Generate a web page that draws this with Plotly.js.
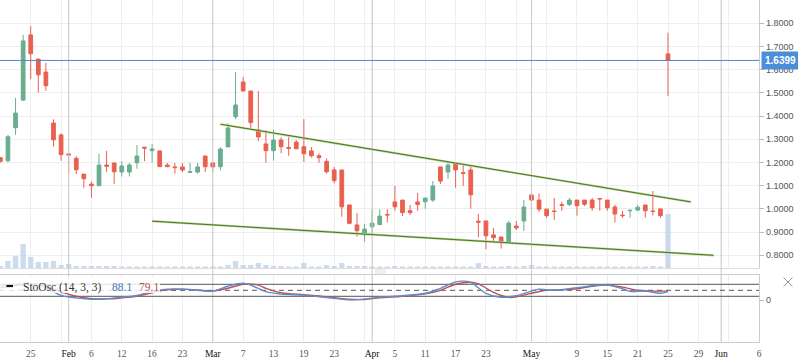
<!DOCTYPE html>
<html><head><meta charset="utf-8">
<script src="https://cdn.plot.ly/plotly-3.0.1.min.js"></script>
<style>html,body{margin:0;padding:0;background:#fff;overflow:hidden}#chart{width:798px;height:363px}</style>
</head><body><div id="chart"></div>
<script>
// ---------- data ----------
const dates = ['2018-01-19','2018-01-22','2018-01-23','2018-01-24','2018-01-25','2018-01-26','2018-01-29','2018-01-30','2018-01-31',
'2018-02-01','2018-02-02','2018-02-05','2018-02-06','2018-02-07','2018-02-08','2018-02-09','2018-02-12','2018-02-13','2018-02-14','2018-02-15','2018-02-16','2018-02-20','2018-02-21','2018-02-22','2018-02-23','2018-02-26','2018-02-27','2018-02-28',
'2018-03-01','2018-03-02','2018-03-05','2018-03-06','2018-03-07','2018-03-08','2018-03-09','2018-03-12','2018-03-13','2018-03-14','2018-03-15','2018-03-16','2018-03-19','2018-03-20','2018-03-21','2018-03-22','2018-03-23','2018-03-26','2018-03-27','2018-03-28','2018-03-29',
'2018-04-02','2018-04-03','2018-04-04','2018-04-05','2018-04-06','2018-04-09','2018-04-10','2018-04-11','2018-04-12','2018-04-13','2018-04-16','2018-04-17','2018-04-18','2018-04-19','2018-04-20','2018-04-23','2018-04-24','2018-04-25','2018-04-26','2018-04-27','2018-04-30',
'2018-05-01','2018-05-02','2018-05-03','2018-05-04','2018-05-07','2018-05-08','2018-05-09','2018-05-10','2018-05-11','2018-05-14','2018-05-15','2018-05-16','2018-05-17','2018-05-18','2018-05-21','2018-05-22','2018-05-23','2018-05-24','2018-05-25'];

const open  = [1.221,1.208,1.350,1.469,1.750,1.646,1.590,1.370,1.319,1.237,1.218,1.150,1.107,1.100,1.189,1.198,1.159,1.159,1.199,1.266,1.251,1.250,1.189,1.181,1.181,1.157,1.159,1.228,
1.198,1.182,1.267,1.397,1.547,1.508,1.341,1.280,1.251,1.297,1.265,1.288,1.268,1.250,1.229,1.205,1.168,1.168,1.017,0.931,0.888,
0.923,0.932,0.976,1.030,1.038,0.992,1.030,1.031,1.038,1.181,1.159,1.198,1.156,1.168,0.947,0.948,0.888,0.879,0.857,0.926,0.948,
1.060,1.038,0.999,0.991,1.019,1.019,1.038,1.038,1.038,1.045,1.038,1.008,0.973,0.992,0.995,1.017,0.991,1.000,1.668];
const high  = [1.222,1.319,1.478,1.750,1.788,1.646,1.629,1.386,1.326,1.237,1.228,1.150,1.119,1.237,1.250,1.198,1.206,1.198,1.275,1.266,1.280,1.250,1.198,1.198,1.198,1.198,1.198,1.228,
1.202,1.266,1.369,1.590,1.569,1.508,1.508,1.340,1.340,1.309,1.311,1.297,1.387,1.267,1.240,1.218,1.181,1.168,1.017,0.982,0.935,
0.999,0.999,0.999,1.099,1.038,1.017,1.069,1.047,1.120,1.181,1.202,1.198,1.194,1.189,0.978,0.948,0.918,0.879,0.948,0.948,1.038,
1.077,1.067,0.999,1.047,1.030,1.047,1.038,1.038,1.047,1.045,1.038,1.018,0.992,0.995,1.017,1.017,1.077,1.000,1.759];
const low   = [1.200,1.200,1.319,1.465,1.560,1.501,1.509,1.268,1.208,1.150,1.150,1.091,1.048,1.098,1.160,1.107,1.140,1.140,1.173,1.206,1.199,1.182,1.180,1.152,1.159,1.157,1.152,1.159,
1.159,1.166,1.267,1.387,1.508,1.341,1.293,1.199,1.208,1.240,1.229,1.259,1.203,1.221,1.199,1.152,1.110,0.966,0.934,0.880,0.859,
0.892,0.932,0.941,0.992,0.969,0.974,0.991,1.001,1.030,1.107,1.129,1.091,1.099,1.001,0.878,0.826,0.859,0.829,0.857,0.909,0.905,
0.961,0.987,0.961,0.952,0.991,1.012,0.971,1.012,0.992,0.992,0.992,0.941,0.962,0.962,0.992,0.962,0.971,0.962,1.487];
const close = [1.205,1.311,1.413,1.724,1.669,1.578,1.531,1.298,1.234,1.233,1.169,1.130,1.100,1.189,1.184,1.160,1.185,1.189,1.228,1.262,1.258,1.182,1.182,1.178,1.168,1.160,1.181,1.182,
1.181,1.258,1.349,1.448,1.508,1.372,1.310,1.251,1.297,1.268,1.261,1.259,1.238,1.229,1.221,1.160,1.122,1.009,0.938,0.906,0.913,
0.939,0.969,0.974,1.009,0.984,0.984,1.019,1.047,1.099,1.120,1.189,1.168,1.153,1.061,0.943,0.884,0.876,0.856,0.939,0.918,1.008,
1.038,0.999,0.971,0.989,1.016,1.038,1.014,1.020,1.005,1.043,1.005,0.978,0.971,0.994,1.007,0.992,0.989,0.971,1.6399];
const volume = [20,70,120,240,110,60,60,70,30,40,20,20,20,20,20,20,15,15,15,15,15,15,15,15,15,15,15,15,
15,15,30,70,30,30,50,30,20,20,15,15,50,15,15,30,20,50,20,20,20,
15,15,15,20,15,15,15,15,15,15,15,15,15,15,50,20,15,15,20,15,20,
30,15,15,15,15,15,15,15,15,15,15,15,15,15,15,15,20,15,540];

// stochastic oscillator (trading-day number -> value)
const stoKDay = [0,2,4,6,8,10,12,14,16,18,20,22,24,26,28,30,32,33,35,37,40,42,44,46,48,50,53,56,58,60,61,62,64,66,68,70,71,73,76,78,80,82,83,85,87,88];
const stoK    = [68,80,86,62,25,12,5,8,15,24,45,56,56,50,46,70,85,76,43,31,26,18,10,2,6,16,23,35,60,92,96,90,35,15,23,46,55,50,63,73,76,58,45,46,35,43];
const stoDDay = [0,4,6,8,10,12,14,16,18,20,22,24,26,28,30,32,34,35,37,40,42,44,46,48,50,53,56,58,60,62,63,65,67,68,70,72,74,76,78,80,82,84,86,88];
const stoD    = [62,80,72,42,20,8,7,12,20,38,52,56,52,47,60,80,76,60,38,28,22,13,5,4,12,20,32,50,80,90,82,40,15,17,35,50,52,58,70,76,66,50,46,46];
const stoLevels = [80,50,20];

// trend lines (date, price)
const trendUpperDates = ['2018-03-02','2018-05-28'], trendUpperPrice = [1.365,1.030];
const trendLowerDates = ['2018-02-16','2018-05-31'], trendLowerPrice = [0.947,0.800];
const lastPrice = 1.6399;

// axis ticks
const gridDates = ['2018-01-19','2018-01-25','2018-01-31','2018-02-06','2018-02-12','2018-02-16','2018-02-23','2018-03-01','2018-03-07','2018-03-13','2018-03-19','2018-03-23','2018-03-29','2018-04-05','2018-04-11','2018-04-17','2018-04-23','2018-04-27','2018-05-03','2018-05-09','2018-05-15','2018-05-21','2018-05-25','2018-05-29','2018-06-02','2018-06-06'];
const dayLabels = ['','25','','6','12','16','23','','7','13','19','23','','5','11','17','23','','','9','15','21','25','29','','6'];
const monthDates = ['2018-02-01','2018-03-01','2018-04-02','2018-05-01','2018-06-01'];
const monthLabels = ['Feb','Mar','Apr','May','Jun'];
const priceTicks = [0.8,0.9,1.0,1.1,1.2,1.3,1.4,1.5,1.6,1.7,1.8];

// ---------- helpers ----------
const W = 798, H = 363;
const px = x => x / W, py = y => 1 - y / H;
const lastIdx = dates.length - 1;
function pos(d){
  const i = dates.indexOf(d);
  if (i >= 0) return i;
  return lastIdx + Math.round((Date.parse(d) - Date.parse(dates[lastIdx])) / 86400000);
}
const xs = dates.map(d => pos(d));
const plotRight = 759.3 / W;
const xRange = [-0.05, 100.03];
const yRange = [0.7453, 1.9004];
const y2Range = [-207, 126.5];

const tv = [], tt = [];
gridDates.forEach((d,i) => { tv.push(pos(d)); tt.push(dayLabels[i]); });
monthDates.forEach((d,i) => {
  const p = pos(d), lab = '<span style="color:#111">' + monthLabels[i] + '</span>';
  const k = tv.indexOf(p);
  if (k >= 0) tt[k] = lab; else { tv.push(p); tt.push(lab); }
});
const order = tv.map((v,i)=>i).sort((a,b)=>tv[a]-tv[b]);
const tickvals = order.map(i=>tv[i]), ticktext = order.map(i=>tt[i]);

const GREEN = '#6aad8e', RED = '#e9604f', MONTH = '#c8c8c8';

const traces = [];
// month separator lines (drawn first so candles sit on top)
monthDates.forEach(d => {
  const p = pos(d);
  traces.push({type:'scatter', mode:'lines', x:[p,p], y:yRange, xaxis:'x', yaxis:'y', line:{color:MONTH, width:1}, hoverinfo:'skip', showlegend:false, cliponaxis:false});
  traces.push({type:'scatter', mode:'lines', x:[p,p], y:[y2Range[0]-18, y2Range[1]], xaxis:'x2', yaxis:'y2', line:{color:MONTH, width:1}, hoverinfo:'skip', showlegend:false, cliponaxis:false});
});
// oscillator level lines
stoLevels.forEach((v,i) => traces.push({type:'scatter', mode:'lines', x:xRange, y:[v,v], xaxis:'x2', yaxis:'y2',
  line:{color:'#555', width:1, dash: i===1 ? '5px,4px' : 'solid'}, hoverinfo:'skip', showlegend:false}));
traces.push(
  { type:'bar', x: xs, y: volume, xaxis:'x', yaxis:'y3', width:0.7,
    marker:{color:'rgba(176,199,228,0.65)', line:{width:0}}, hoverinfo:'skip', showlegend:false },
  { type:'candlestick', x: xs, open, high, low, close, xaxis:'x', yaxis:'y',
    increasing:{line:{color:GREEN, width:1}, fillcolor:GREEN},
    decreasing:{line:{color:RED, width:1}, fillcolor:RED},
    whiskerwidth:0, showlegend:false, hoverinfo:'skip' },
  { type:'scatter', mode:'lines', x: stoDDay.map(i=>pos(dates[i])), y: stoD, xaxis:'x2', yaxis:'y2',
    line:{color:'#c0504d', width:1.4, shape:'spline', smoothing:1}, showlegend:false, hoverinfo:'skip' },
  { type:'scatter', mode:'lines', x: stoKDay.map(i=>pos(dates[i])), y: stoK, xaxis:'x2', yaxis:'y2',
    line:{color:'#5a8ed0', width:1.4, shape:'spline', smoothing:1}, showlegend:false, hoverinfo:'skip' }
);

const shapes = [];
// month separators across the gap between panels
monthDates.forEach(d => {
  const p = pos(d);
  shapes.push({type:'line', xref:'x', yref:'paper', x0:p, x1:p, y0:py(275), y1:py(268), layer:'above', line:{color:MONTH, width:1}});
});
// trend lines
[[trendUpperDates,trendUpperPrice],[trendLowerDates,trendLowerPrice]].forEach(([d,p]) => {
  shapes.push({type:'line', xref:'x', yref:'y', x0:pos(d[0]), x1:pos(d[1]), y0:p[0], y1:p[1], layer:'above', line:{color:'#b9d0a2', width:2.2}});
  shapes.push({type:'line', xref:'x', yref:'y', x0:pos(d[0]), x1:pos(d[1]), y0:p[0], y1:p[1], layer:'above', line:{color:'#4b7a16', width:1}});
});
// last price line
shapes.push({type:'line', xref:'paper', yref:'y', x0:0, x1:plotRight, y0:lastPrice, y1:lastPrice, layer:'above', line:{color:'#4a8ad4', width:1}});
// legend backdrop + symbol
shapes.push({type:'rect', xref:'paper', yref:'paper', x0:0, x1:px(160), y0:py(293), y1:py(277), fillcolor:'rgba(255,255,255,0.82)', line:{width:0}, layer:'above'});
shapes.push({type:'line', xref:'paper', yref:'paper', x0:px(6.5), x1:px(13), y0:py(286), y1:py(286), line:{color:'#111', width:2.2}, layer:'above'});
// panel handle
[269,271,273].forEach(y => shapes.push({type:'line', xref:'paper', yref:'paper', x0:px(375), x1:px(386), y0:py(y), y1:py(y), line:{color:'#d6d6d6', width:0.8}, layer:'above'}));
// close icon
shapes.push({type:'line', xref:'paper', yref:'paper', x0:px(783.5), x1:px(792.5), y0:py(277.5), y1:py(286.5), layer:'above', line:{color:'#9a9a9a', width:1}});
shapes.push({type:'line', xref:'paper', yref:'paper', x0:px(783.5), x1:px(792.5), y0:py(286.5), y1:py(277.5), layer:'above', line:{color:'#9a9a9a', width:1}});

const serif = 'Liberation Serif, Times New Roman, serif';
const annotations = [
  {xref:'paper', yref:'paper', x:px(21), y:py(287), xanchor:'left', yanchor:'middle', showarrow:false,
   text:'StoOsc (14, 3, 3)', font:{family:serif, size:11.5, color:'#333'}},
  {xref:'paper', yref:'paper', x:px(110), y:py(287), xanchor:'left', yanchor:'middle', showarrow:false,
   text:'88.1', font:{family:serif, size:11.5, color:'#4a78b8'}},
  {xref:'paper', yref:'paper', x:px(137), y:py(287), xanchor:'left', yanchor:'middle', showarrow:false,
   text:'79.1', font:{family:serif, size:11.5, color:'#b4514f'}},
  {xref:'paper', yref:'y', x:px(760.5), y:lastPrice, xanchor:'left', yanchor:'middle', showarrow:false,
   text:'<b>' + lastPrice.toFixed(4) + '</b>', font:{family:'Liberation Sans, Arial', size:10, color:'#fff'},
   bgcolor:'#4a8fd8', borderpad:3}
];

const layout = {
  width: W, height: H, margin:{l:0, r:0, t:0, b:0},
  paper_bgcolor:'#fff', plot_bgcolor:'rgba(0,0,0,0)',
  font:{family:'Liberation Sans, Arial, sans-serif', size:9, color:'#555'},
  showlegend:false, hovermode:false, dragmode:false,
  xaxis:{domain:[0, plotRight], anchor:'y', range:xRange, tickvals, ticktext, showticklabels:false,
         showgrid:true, gridcolor:'#eeeeee', gridwidth:1, zeroline:false, showline:true, linecolor:'#dddddd',
         ticks:'', rangeslider:{visible:false}, fixedrange:true},
  xaxis2:{domain:[0, plotRight], anchor:'y2', matches:'x', range:xRange, tickvals, ticktext,
          showgrid:true, gridcolor:'#eeeeee', gridwidth:1, zeroline:false, showline:true, mirror:true, linecolor:'#cccccc',
          ticks:'', ticklabelstandoff:3, tickfont:{family:serif, size:9.5, color:'#555'}, fixedrange:true, rangeslider:{visible:false}},
  yaxis:{domain:[py(268), 1], anchor:'x', side:'right', range:yRange, tickvals:priceTicks,
         tickformat:'.4f', showgrid:true, gridcolor:'#eeeeee', zeroline:false, showline:true, linecolor:'#cccccc',
         ticks:'outside', ticklen:4, tickcolor:'#bbbbbb', tickfont:{size:9, color:'#555'}, fixedrange:true},
  yaxis2:{domain:[py(341.7), py(275)], anchor:'x2', side:'right', range:y2Range, tickvals:[0], ticktext:['0'],
          showgrid:false, zeroline:false, showline:true, linecolor:'#cccccc', ticks:'outside', ticklen:4, tickcolor:'#bbbbbb',
          tickfont:{size:9, color:'#555'}, fixedrange:true},
  yaxis3:{overlaying:'y', anchor:'x', range:[0, 2680], visible:false, fixedrange:true},
  shapes, annotations
};

Plotly.newPlot('chart', traces, layout, {staticPlot:true, displayModeBar:false});
</script>
</body></html>
